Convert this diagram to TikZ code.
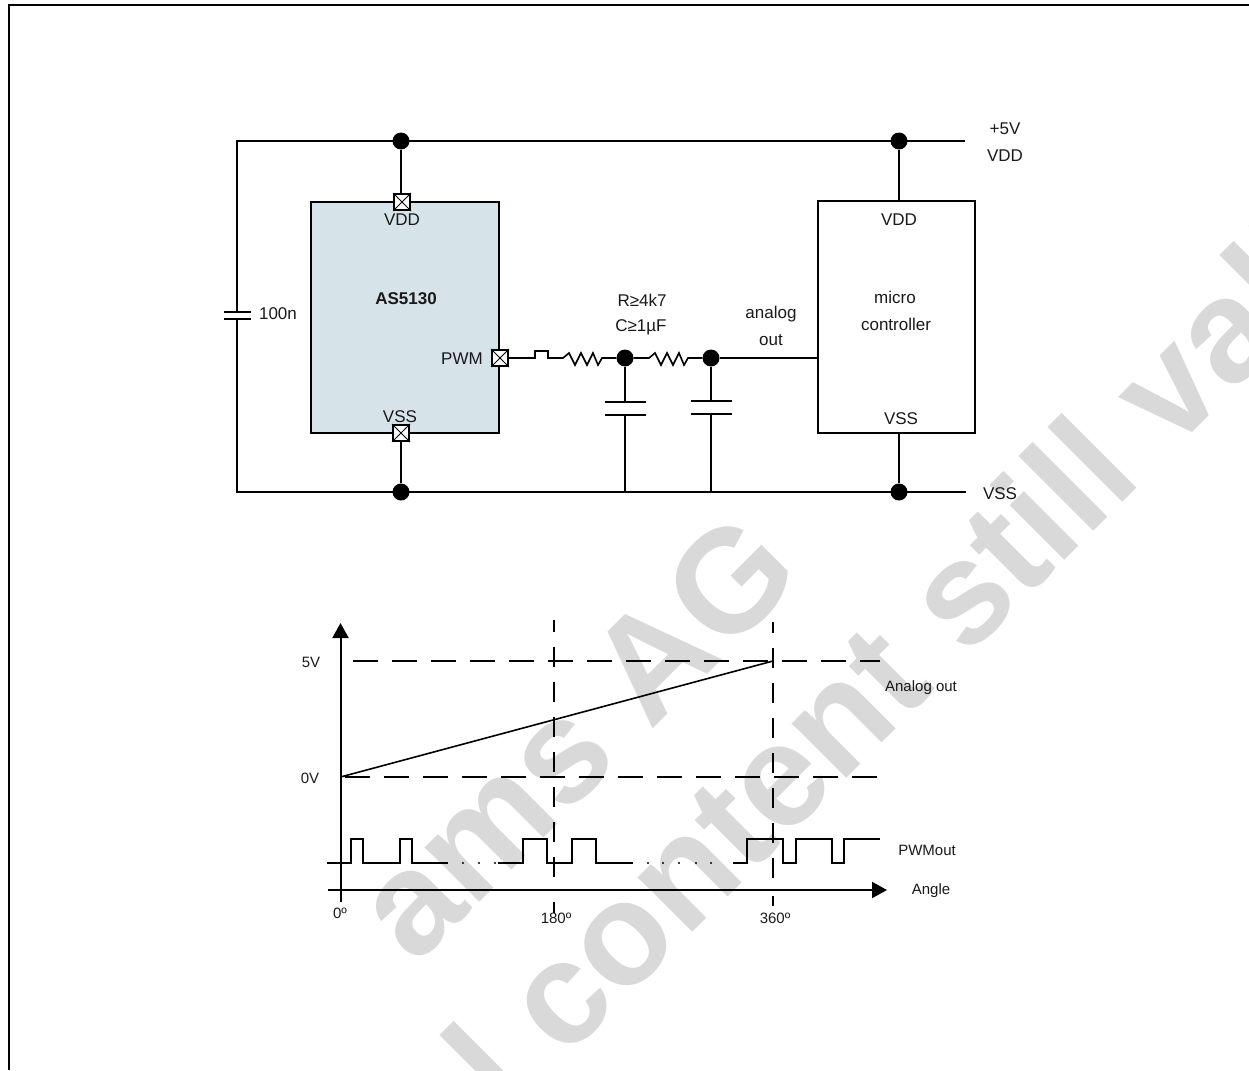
\documentclass[tikz,border=0pt]{standalone}
\usepackage{fontspec}
\setmainfont{Liberation Sans}
\usetikzlibrary{arrows.meta}
\definecolor{icfill}{HTML}{D6E4EA}
\definecolor{wmgray}{HTML}{D9D9D9}
\newcommand{\lblA}{\fontsize{17}{20}\selectfont}
\newcommand{\lblB}{\fontsize{15}{18}\selectfont}
\tikzset{
  wire/.style={draw=black,line width=2pt},
  thinw/.style={draw=black,line width=1.6pt},
  junction/.style={circle,fill=black,draw=none,minimum size=17pt,inner sep=0pt},
  padbox/.style={rectangle,draw=black,line width=2pt,fill=white,minimum size=16pt,inner sep=0pt},
  lbl/.style={inner sep=0pt,font=\lblA,text=black!90},
  plbl/.style={inner sep=0pt,font=\lblB,text=black!90},
  dashH/.style={draw=black,line width=1.8pt,dash pattern=on 25pt off 14pt},
  dashV/.style={draw=black,line width=1.8pt,dash pattern=on 20pt off 15pt},
  axis/.style={draw=black,line width=2pt,-{Triangle[length=15pt,width=16pt]}},
  wm/.style={text=wmgray,inner sep=0pt,font=\fontsize{146}{146}\selectfont\bfseries,rotate=45},
}
\begin{document}
\begin{tikzpicture}[x=1pt,y=-1pt]
\useasboundingbox (0,0) rectangle (1249,1070);
\begin{scope}
\clip (0,0) rectangle (1249,1070);
\node[wm] (wmA) at (575,736) {ams AG};
\node[wm,anchor=base east] (wmB) at (1408,217) {Technical content still valid};
\end{scope}
\draw[wire] (8.5,1070) -- (8.5,5) -- (1249,5);

% coordinates
\coordinate (railL) at (237,141);
\coordinate (railR) at (965,141);
\coordinate (gndL) at (237,492);
\coordinate (gndR) at (966,492);
\coordinate (capT) at (237,312);
\coordinate (capB) at (237,319);

\draw[wire] (railR) -- (railL) -- (capT);
\draw[wire] (capB) -- (gndL) -- (gndR);
\draw[wire] (224,312) -- (251,312);
\draw[wire] (224,319) -- (251,319);

% IC
\node[rectangle,draw=black,line width=2pt,fill=icfill,minimum width=188pt,minimum height=231pt,anchor=north west,inner sep=0pt] (ic) at (310,201) {};
\node[rectangle,draw=black,line width=2pt,fill=white,minimum width=157pt,minimum height=232pt,anchor=north west,inner sep=0pt] (mcu) at (817,200) {};

\node[junction] (j1) at (401,141) {};
\node[junction] (j2) at (401,492) {};
\node[junction] (j3) at (899,141) {};
\node[junction] (j4) at (899,492) {};
\node[junction] (j5) at (625,358) {};
\node[junction] (j6) at (711,358) {};

\node[padbox] (pVDD) at (402,202) {};
\node[padbox] (pVSS) at (401,433) {};
\node[padbox] (pPWM) at (500,358) {};
\foreach \p in {pVDD,pVSS,pPWM}{
  \draw[line width=1pt] (\p.north west) -- (\p.south east) (\p.north east) -- (\p.south west);
}

\draw[wire] (j1) -- (401,194);
\draw[wire] (j2) -- (401,441);
\draw[wire] (j3) -- (899,200);
\draw[wire] (j4) -- (899,433);

% PWM filter
\draw[thinw,line join=miter] (pPWM.east) -- (535,358) -- (535,351) -- (548,351) -- (548,358) -- (563,358)
  -- (569,353) -- (575,365) -- (581,353) -- (587,365) -- (593,353) -- (598,365) -- (602,358) -- (j5);
\draw[thinw] (j5) -- (649,358)
  -- (655,353) -- (661,365) -- (667,353) -- (673,365) -- (679,353) -- (684,365) -- (688,358) -- (j6);
\draw[wire] (j6) -- (mcu.west |- j6);

\draw[wire] (j5) -- (625,402);
\draw[wire] (605,402) -- (646,402);
\draw[wire] (605,415) -- (646,415);
\draw[wire] (625,415) -- (625,493);
\draw[wire] (j6) -- (711,401);
\draw[wire] (691,401) -- (732,401);
\draw[wire] (691,414) -- (732,414);
\draw[wire] (711,414) -- (711,492);

% Labels
\node[lbl] (tVDD) at (402,220) {VDD};
\node[lbl,font=\lblA\bfseries] (tAS) at (406,298.5) {AS5130};
\node[lbl] (tPWM) at (462,359) {PWM};
\node[lbl] (tVSS) at (400,417) {VSS};
\node[lbl] (t100) at (278,314) {100n};
\node[lbl] (t5V) at (1005,128.5) {+5V};
\node[lbl] (tVDDr) at (1005,155.5) {VDD};
\node[lbl] (tVDDm) at (899,220) {VDD};
\node[lbl] (tmicro) at (895,297.5) {micro};
\node[lbl] (tctrl) at (896,324) {controller};
\node[lbl] (tVSSm) at (901,419) {VSS};
\node[lbl] (tVSSr) at (1000,494) {VSS};
\node[lbl] (tR) at (642,300) {R≥4k7};
\node[lbl] (tC) at (641,327) {C≥1µF};
\node[lbl] (tan) at (771,314) {analog};
\node[lbl] (tout) at (771,340) {out};

% Plot
\coordinate (yB) at (340.5,902);
\coordinate (yT) at (340.5,623);
\coordinate (xL) at (328,890);
\coordinate (xR) at (887,890);
\coordinate (p0) at (340.5,777);
\coordinate (p1) at (773,661);
\draw[dashH] (353,661) -- (880,661);
\draw[dashH] (345,777) -- (880,777);
\draw[dashV,dash phase=8pt] (554,620) -- (554,877);
\draw[line width=1.8pt] (554,902) -- (554,913);
\draw[dashV,dash phase=9pt] (773,622) -- (773,879);
\draw[line width=1.8pt] (773,896) -- (773,906);
\draw[line width=1.6pt] (p0) -- (p1);
\draw[axis] (yB) -- (yT);
\draw[axis] (xL) -- (xR);

\draw[thinw,line join=miter] (327,863) -- (351,863) |- (363,839) |- (400,863) |- (412,839) |- (448,863);
\draw[thinw,line join=miter] (498,863) -- (523,863) |- (547,839) |- (572,863) |- (596,839) |- (633,863);
\draw[thinw,line join=miter] (733,863) -- (747,863) |- (783,839) |- (796,863) |- (832,839) |- (844,863) |- (880,839);
\foreach \x in {463,479,495,648,663,679,696,711}{
  \fill (\x,863) circle (1.1pt);
}

\node[plbl] (t5) at (311,662) {5V};
\node[plbl] (t0) at (310,778) {0V};
\node[plbl] (a0) at (340,913) {0º};
\node[plbl] (a180) at (556,918) {180º};
\node[plbl] (a360) at (775,918) {360º};
\node[plbl] (tAO) at (921,688) {Analog out};
\node[plbl] (tPW) at (927,850.5) {PWMout};
\node[plbl] (tAng) at (931,891) {Angle};
\end{tikzpicture}
\end{document}
